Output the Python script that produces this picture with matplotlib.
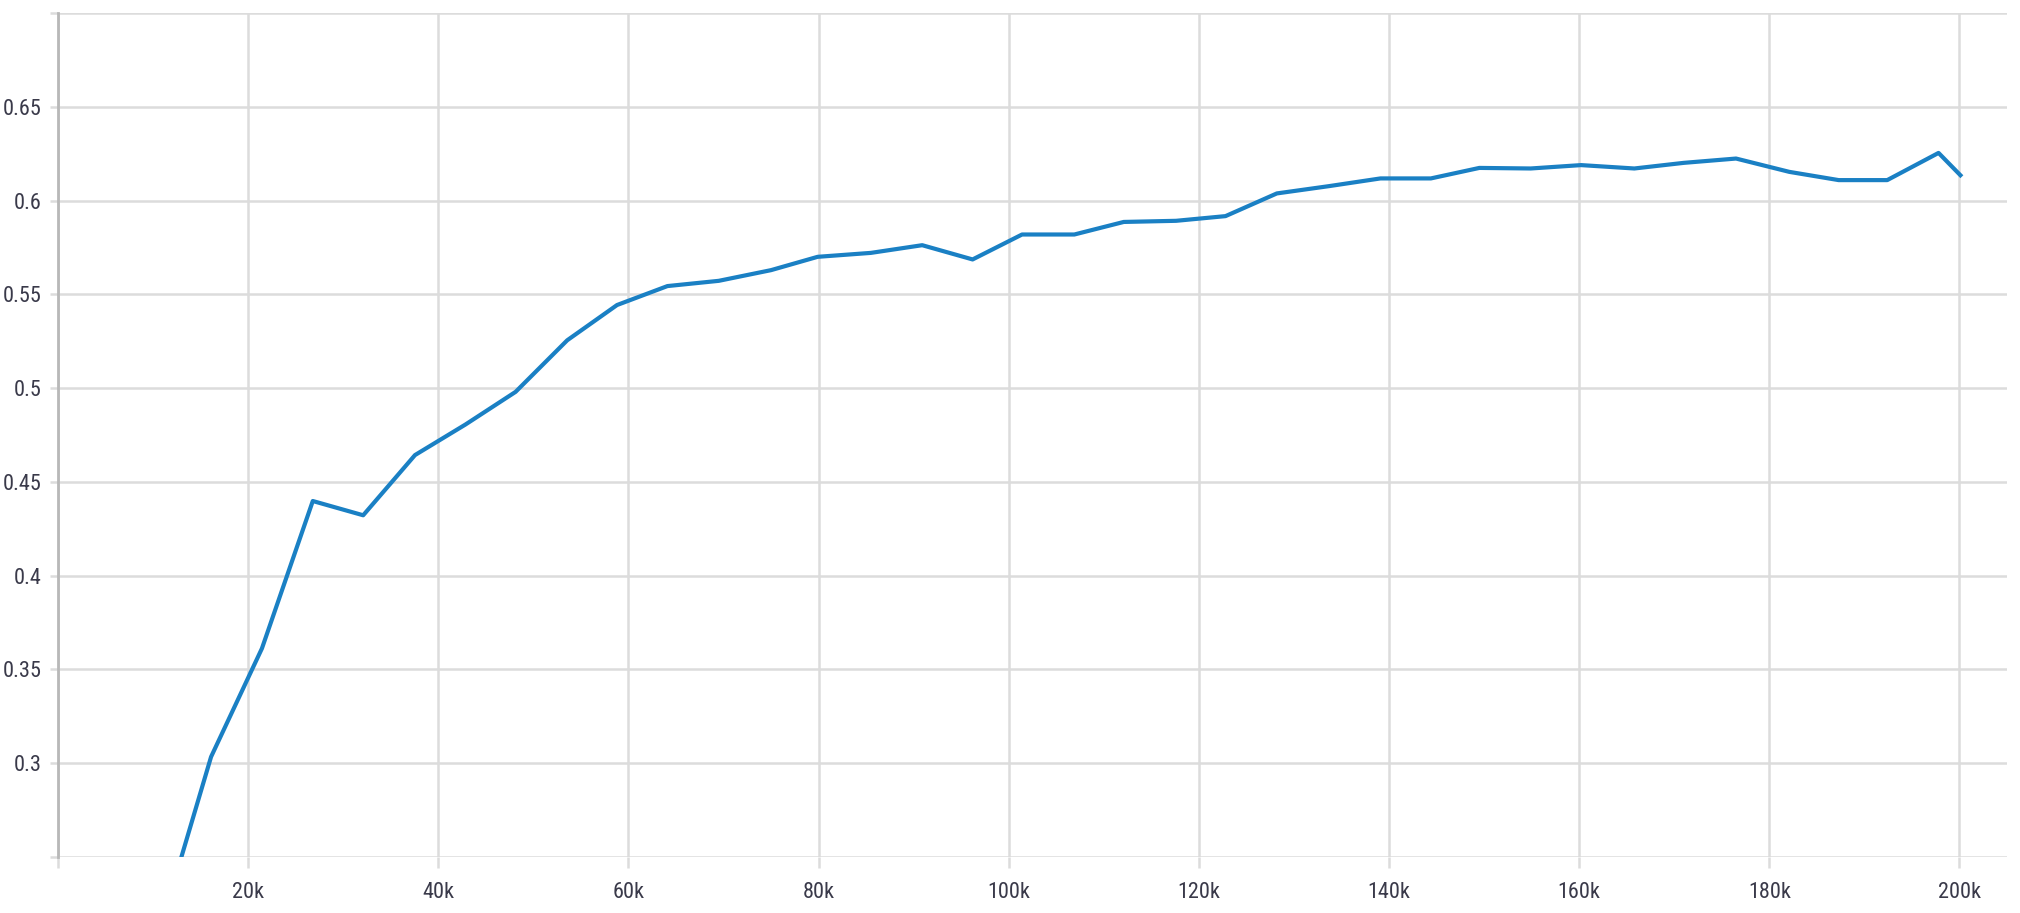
import numpy as np
import matplotlib
matplotlib.use('Agg')
import matplotlib.pyplot as plt

# step (k) and value
steps = [10.7, 16.1, 21.45, 26.8, 32.1, 37.55, 42.86, 48.13, 53.56, 58.8,
         64.1, 69.5, 75.0, 79.9, 85.5, 90.9, 96.2, 101.4, 106.9, 112.1,
         117.6, 122.8, 128.2, 133.7, 139.1, 144.4, 149.5, 154.9, 160.2, 165.8,
         171.0, 176.5, 182.1, 187.3, 192.4, 197.8, 200.1]
values = [0.211, 0.3034, 0.3612, 0.4398, 0.4322, 0.4643, 0.4806, 0.498, 0.5255, 0.5443,
          0.5544, 0.5572, 0.5629, 0.570, 0.5721, 0.5762, 0.5686, 0.5819, 0.5819, 0.5886,
          0.5892, 0.5917, 0.6038, 0.6077, 0.6118, 0.6118, 0.6174, 0.6171, 0.6189, 0.6171,
          0.6201, 0.6224, 0.6153, 0.6109, 0.6109, 0.6254, 0.6135]

xticks = [0, 20, 40, 60, 80, 100, 120, 140, 160, 180, 200]
xlabels = [''] + ['%dk' % t for t in xticks[1:]]
yticks = [0.25, 0.3, 0.35, 0.4, 0.45, 0.5, 0.55, 0.6, 0.65, 0.7]
ylabels = [''] + ['%g' % t for t in yticks[1:-1]] + ['']

fnt = ['DejaVu Sans Condensed', 'Liberation Sans Narrow', 'Roboto Condensed', 'Liberation Sans']
grid_c = '#dcdcdc'

fig = plt.figure(figsize=(20.2, 9.13), dpi=100)
ax = fig.add_axes([58/2020, 56/913, (2007-58)/2020, (857-13)/913])

x = np.array(steps) * 1000
ax.plot(x, values, color='#1a80c4', lw=3.0, solid_joinstyle='round', zorder=3)

ax.set_xlim(0, 205000)
ax.set_ylim(0.25, 0.7)
ax.set_xticks([t * 1000 for t in xticks])
ax.set_xticklabels(xlabels)
ax.set_yticks(yticks)
ax.set_yticklabels(ylabels)

ax.grid(True, color=grid_c, lw=1.8, zorder=0)
for s in ['top', 'right', 'bottom']:
    ax.spines[s].set_visible(False)
ax.spines['left'].set_color('#b8b8b8')
ax.spines['left'].set_linewidth(2)

ax.tick_params(axis='y', length=6, width=1.8, color=grid_c, pad=6, labelsize=16, labelcolor='#3a3a4a')
ax.tick_params(axis='x', length=8, width=1.8, color=grid_c, pad=10, labelsize=16, labelcolor='#3a3a4a')
for lab in ax.get_xticklabels() + ax.get_yticklabels():
    lab.set_family(fnt)
    lab.set_stretch('condensed')

fig.savefig('out.png', dpi=100, facecolor='white')
